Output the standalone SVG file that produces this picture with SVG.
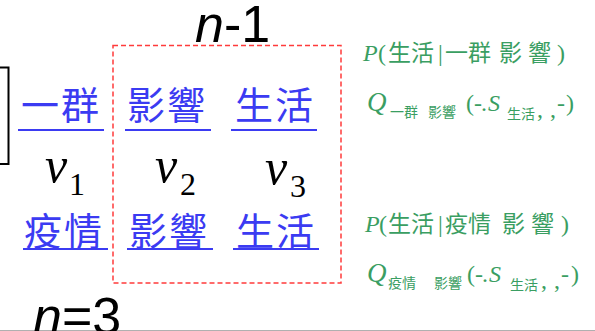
<svg xmlns="http://www.w3.org/2000/svg" width="595" height="331" viewBox="0 0 595 331">
<style>
.cjk{font-family:"Noto Sans CJK TC","Noto Sans CJK SC",sans-serif;}
.blue{fill:#3b3bf2;font-size:38px;letter-spacing:2px;}
.ul{stroke:#3b3bf2;stroke-width:2.2;}
.v{font-family:"Liberation Serif",serif;fill:#000;}
.n{font-family:"Liberation Sans",Arial,sans-serif;font-size:52px;fill:#000;}
.g{fill:#3a9e62;font-family:"Liberation Serif",serif;font-size:24px;}
.gc{font-family:"Noto Sans CJK TC","Noto Sans CJK SC",sans-serif;font-size:23px;}
.gs{font-family:"Noto Sans CJK TC","Noto Sans CJK SC",sans-serif;font-size:14px;}
.it{font-style:italic;}
</style>
<rect width="595" height="331" fill="#fff"/>
<line x1="0" y1="330.5" x2="595" y2="330.5" stroke="#b0b0b0" stroke-width="1"/>
<g id="bracket"><path d="M0,67.5 H8.5 V164 H0" fill="none" stroke="#000" stroke-width="2"/></g>
<g id="window"><rect x="113" y="45.5" width="228" height="237.5" fill="none" stroke="#ff3b3b" stroke-width="1.5" stroke-dasharray="5,3"/></g>
<g id="label-n-1"><text class="n" x="195" y="42"><tspan class="it">n</tspan>-1</text></g>
<g id="label-n3"><text class="n" x="33" y="334"><tspan class="it">n</tspan>=3</text></g>
<g id="w1-top"><text class="cjk blue" x="21" y="119">一群</text><line class="ul" x1="18" y1="130" x2="104" y2="130"/></g>
<g id="w2-top"><text class="cjk blue" x="127" y="119">影響</text><line class="ul" x1="125" y1="130" x2="211" y2="130"/></g>
<g id="w3-top"><text class="cjk blue" x="235" y="119">生活</text><line class="ul" x1="231" y1="130" x2="317" y2="130"/></g>
<g id="w1-bot"><text class="cjk blue" x="24" y="245">疫情</text><line class="ul" x1="23" y1="249" x2="108" y2="249"/></g>
<g id="w2-bot"><text class="cjk blue" x="129" y="245">影響</text><line class="ul" x1="127" y1="249" x2="213" y2="249"/></g>
<g id="w3-bot"><text class="cjk blue" x="236" y="245">生活</text><line class="ul" x1="233" y1="249" x2="319" y2="249"/></g>
<g id="v1"><text class="v" y="182"><tspan class="it" x="45" font-size="50">v</tspan><tspan x="69" y="195" font-size="32">1</tspan></text></g>
<g id="v2"><text class="v" y="182"><tspan class="it" x="155" font-size="50">v</tspan><tspan x="180" y="195" font-size="32">2</tspan></text></g>
<g id="v3"><text class="v" y="184"><tspan class="it" x="265" font-size="50">v</tspan><tspan x="290" y="197" font-size="32">3</tspan></text></g>
<g id="p1"><text class="g" y="61"><tspan class="it" x="363">P</tspan><tspan x="378">(</tspan><tspan class="gc" x="388">生活</tspan><tspan x="438">|</tspan><tspan class="gc" x="445">一群</tspan><tspan class="gc" x="499">影</tspan><tspan class="gc" x="528">響</tspan><tspan x="557">)</tspan></text></g>
<g id="q1"><text class="g" y="111"><tspan class="it" x="367" font-size="27">Q</tspan><tspan class="gs" x="390" y="117">一群</tspan><tspan class="gs" x="428" y="117">影響</tspan><tspan x="466" y="111">(</tspan><tspan x="474">-</tspan><tspan x="481">.</tspan><tspan class="it" x="488">S</tspan><tspan class="gs" x="507" y="119">生活</tspan><tspan x="537" y="117">,</tspan><tspan x="550" y="117">,</tspan><tspan x="557" y="111">-</tspan><tspan x="566">)</tspan></text></g>
<g id="p2"><text class="g" y="232"><tspan class="it" x="365">P</tspan><tspan x="379">(</tspan><tspan class="gc" x="388">生活</tspan><tspan x="438">|</tspan><tspan class="gc" x="445">疫情</tspan><tspan class="gc" x="502">影</tspan><tspan class="gc" x="531">響</tspan><tspan x="561">)</tspan></text></g>
<g id="q2"><text class="g" y="282"><tspan class="it" x="367" font-size="27">Q</tspan><tspan class="gs" x="388" y="288" font-size="15">疫情</tspan><tspan class="gs" x="434" y="288" font-size="15">影響</tspan><tspan x="467" y="282">(</tspan><tspan x="475">-</tspan><tspan x="482">.</tspan><tspan class="it" x="489">S</tspan><tspan class="gs" x="510" y="290">生活</tspan><tspan x="541" y="288">,</tspan><tspan x="554" y="288">,</tspan><tspan x="561" y="282">-</tspan><tspan x="571">)</tspan></text></g>
<g id="connectors"></g>
</svg>
